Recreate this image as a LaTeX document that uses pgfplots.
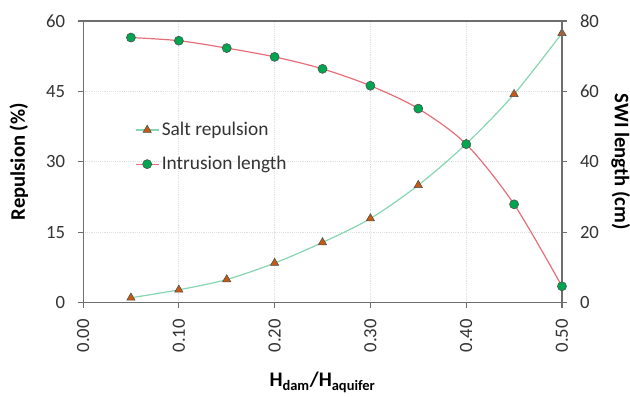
\documentclass[border=0pt]{standalone}
\usepackage{pgfplots}
\pgfplotsset{compat=1.18}
\usepackage{fontspec}
\setmainfont{Carlito}
\definecolor{saltline}{HTML}{86D6B2}
\definecolor{saltmark}{HTML}{C65A11}
\definecolor{intline}{HTML}{E66E78}
\definecolor{intmark}{HTML}{00A550}
\definecolor{axgray}{HTML}{6E6E6E}
\pgfplotsset{
  base/.style={
    width=359pt, height=211pt, scale only axis,
    xmin=0, xmax=0.5,
    axis line style={axgray, line width=0.8pt},
    tick style={axgray, line width=0.8pt},
    tick align=outside, major tick length=4pt,
    ticklabel style={font=\fontsize{14}{16}\selectfont, text=black!80},
    yticklabel shift=6pt,
    /pgf/number format/assume math mode=true,
  },
  saltstyle/.style={saltline, line width=0.9pt, smooth, mark=triangle*, mark size=3.6pt,
    mark options={fill=saltmark, draw=black!70, line width=0.4pt}},
  intstyle/.style={intline, line width=0.9pt, smooth, mark=*, mark size=3.4pt,
    mark options={fill=intmark, draw=black!70, line width=0.4pt}},
}
\begin{document}
\begin{tikzpicture}
\begin{axis}[base, name=a,
  ymin=0, ymax=60, ytick={0,15,30,45,60},
  xtick={0,0.1,0.2,0.3,0.4,0.5}, xtick pos=bottom, ytick pos=left,
  xticklabel shift=5pt,
  xticklabel style={rotate=90, anchor=east, /pgf/number format/.cd, fixed, fixed zerofill, precision=2},
  grid=major, grid style={densely dotted, black!12, line width=0.6pt},
  ylabel={\textbf{Repulsion (\%)}}, ylabel style={font=\fontsize{15.5}{17}\selectfont, at={(axis description cs:-0.134,0.5)}, anchor=center},
  xlabel={\textbf{H\textsubscript{dam}/H\textsubscript{aquifer}}}, xlabel style={font=\fontsize{15.5}{17}\selectfont, at={(axis description cs:0.5,-0.284)}, anchor=center},
]
\addplot[saltstyle] coordinates {
(0.05,1.0) (0.10,2.7) (0.15,4.9) (0.20,8.4) (0.25,12.8) (0.30,17.9) (0.35,25.0) (0.40,33.8) (0.45,44.4) (0.50,57.4)};
\end{axis}
\begin{axis}[base,
  ymin=0, ymax=80, ytick={0,20,40,60,80},
  axis y line*=right, axis x line=none,
  ylabel={\textbf{SWI length (cm)}}, ylabel style={font=\fontsize{15.5}{17}\selectfont, at={(axis description cs:1.1226,0.5)}, anchor=center, rotate=180},
  legend style={at={(0.10,0.66)}, anchor=north west, draw=none, fill=none,
    font=\fontsize{14.5}{16}\selectfont, row sep=10pt, text=black!80},
  legend cell align=left,
]
\addlegendimage{saltstyle}
\addlegendentry{Salt repulsion}
\addplot[intstyle] coordinates {
(0.05,75.3) (0.10,74.4) (0.15,72.3) (0.20,69.8) (0.25,66.4) (0.30,61.6) (0.35,55.1) (0.40,45.0) (0.45,27.9) (0.50,4.6)};
\addlegendentry{Intrusion length}
\end{axis}
\pgfresetboundingbox
\path ([shift={(-62.25pt,-70.5pt)}]a.south west) rectangle ([shift={(51pt,15.75pt)}]a.north east);
\end{tikzpicture}
\end{document}
